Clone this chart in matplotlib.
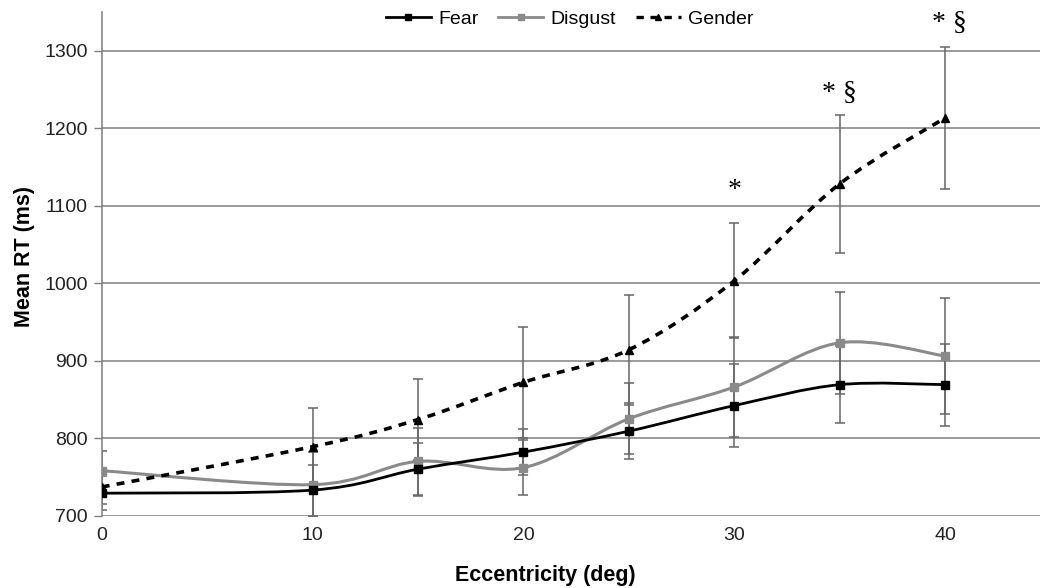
import matplotlib
matplotlib.use("Agg")
import matplotlib.pyplot as plt
import numpy as np
from matplotlib.path import Path
from matplotlib.patches import PathPatch
from matplotlib.lines import Line2D

# values
ecc = [0, 10, 15, 20, 25, 30, 35, 40]
fear = [729, 733, 760, 782, 809, 842, 869, 869]
fear_err = [22, 33, 34, 30, 36, 54, 50, 53]
disgust = [758, 740, 770, 762, 825, 866, 923, 906]
disgust_err = [25, 42, 43, 35, 46, 65, 66, 75]
gender = [737, 789, 824, 872, 914, 1003, 1128, 1213]
gender_err = [22, 50, 52, 72, 71, 74, 89, 92]

x_ticks = [0, 10, 20, 30, 40]
y_ticks = [700, 800, 900, 1000, 1100, 1200, 1300]
marks = [(30, 1120, "*"), (35, 1245, "* \u00a7"), (40.2, 1335, "* \u00a7")]

plt.rcParams['font.family'] = ['Liberation Sans', 'DejaVu Sans']


def smooth_path(xs, ys):
    # excel-like smoothed line: cubic bezier with catmull-rom control points
    p = np.column_stack([xs, ys]).astype(float)
    n = len(p)
    verts = [p[0]]
    codes = [Path.MOVETO]
    for i in range(n - 1):
        p0 = p[i - 1] if i > 0 else p[i]
        p3 = p[i + 2] if i + 2 < n else p[i + 1]
        c1 = p[i] + (p[i + 1] - p0) / 6.0
        c2 = p[i + 1] - (p3 - p[i]) / 6.0
        verts += [c1, c2, p[i + 1]]
        codes += [Path.CURVE4] * 3
    return Path(verts, codes)


fig = plt.figure(figsize=(10.4, 5.88), dpi=100)
ax = fig.add_axes([0.0978, 0.123, 0.9022, 0.857])

grid_col = '#7f7f7f'
err_col = '#666666'
dash = (0, (2.2, 2.0))

for vals, errs in [(fear, fear_err), (disgust, disgust_err), (gender, gender_err)]:
    ax.errorbar(ecc, vals, yerr=errs, fmt='none', ecolor=err_col,
                elinewidth=1.1, capsize=3.8, capthick=1.1, zorder=2)

ax.add_patch(PathPatch(smooth_path(ecc, disgust), fill=False,
                       edgecolor='#8a8a8a', lw=2.2, zorder=3))
ax.add_patch(PathPatch(smooth_path(ecc, fear), fill=False,
                       edgecolor='black', lw=2.0, zorder=4))
ax.add_patch(PathPatch(smooth_path(ecc, gender), fill=False,
                       edgecolor='black', lw=2.6, linestyle=dash, zorder=5))

ax.plot(ecc, disgust, ls='none', marker='s', ms=6, color='#8a8a8a', zorder=6)
ax.plot(ecc, fear, ls='none', marker='s', ms=6, color='black', zorder=6)
ax.plot(ecc, gender, ls='none', marker='^', ms=5.5, color='black', zorder=6)

for xm, ym, txt in marks:
    ax.text(xm, ym, txt, ha='center', va='center', fontsize=20,
            family=['Liberation Serif', 'DejaVu Serif'])

ax.set_xlim(0, 44.5)
ax.set_ylim(700, 1350)
ax.set_xticks(x_ticks)
ax.set_yticks(y_ticks)
ax.tick_params(axis='x', length=0, pad=8, labelsize=14, colors='#222222')
ax.tick_params(axis='y', length=6, width=1, color=grid_col, pad=4,
               labelsize=14, labelcolor='#222222')
ax.yaxis.grid(True, color=grid_col, lw=1.1)
ax.set_axisbelow(True)
for s in ['top', 'right', 'bottom']:
    ax.spines[s].set_visible(False)
ax.spines['left'].set_color(grid_col)
ax.spines['left'].set_linewidth(1.1)

fig.text(0.524, 0.022, 'Eccentricity (deg)', ha='center', va='center',
         fontsize=15.5, fontweight='bold')
fig.text(0.024, 0.563, 'Mean RT (ms)', ha='center', va='center',
         rotation=90, fontsize=15.5, fontweight='bold')

handles = [
    Line2D([], [], color='black', lw=2, marker='s', ms=5),
    Line2D([], [], color='#8a8a8a', lw=2, marker='s', ms=5),
    Line2D([], [], color='black', lw=2.4, ls=dash, marker='^', ms=5),
]
fig.legend(handles, ['Fear', 'Disgust', 'Gender'], loc='center',
           bbox_to_anchor=(0.548, 0.968), ncol=3, frameon=False, fontsize=14,
           handlelength=2.3, handletextpad=0.4, columnspacing=1.0)

fig.savefig('out.png', dpi=100)
